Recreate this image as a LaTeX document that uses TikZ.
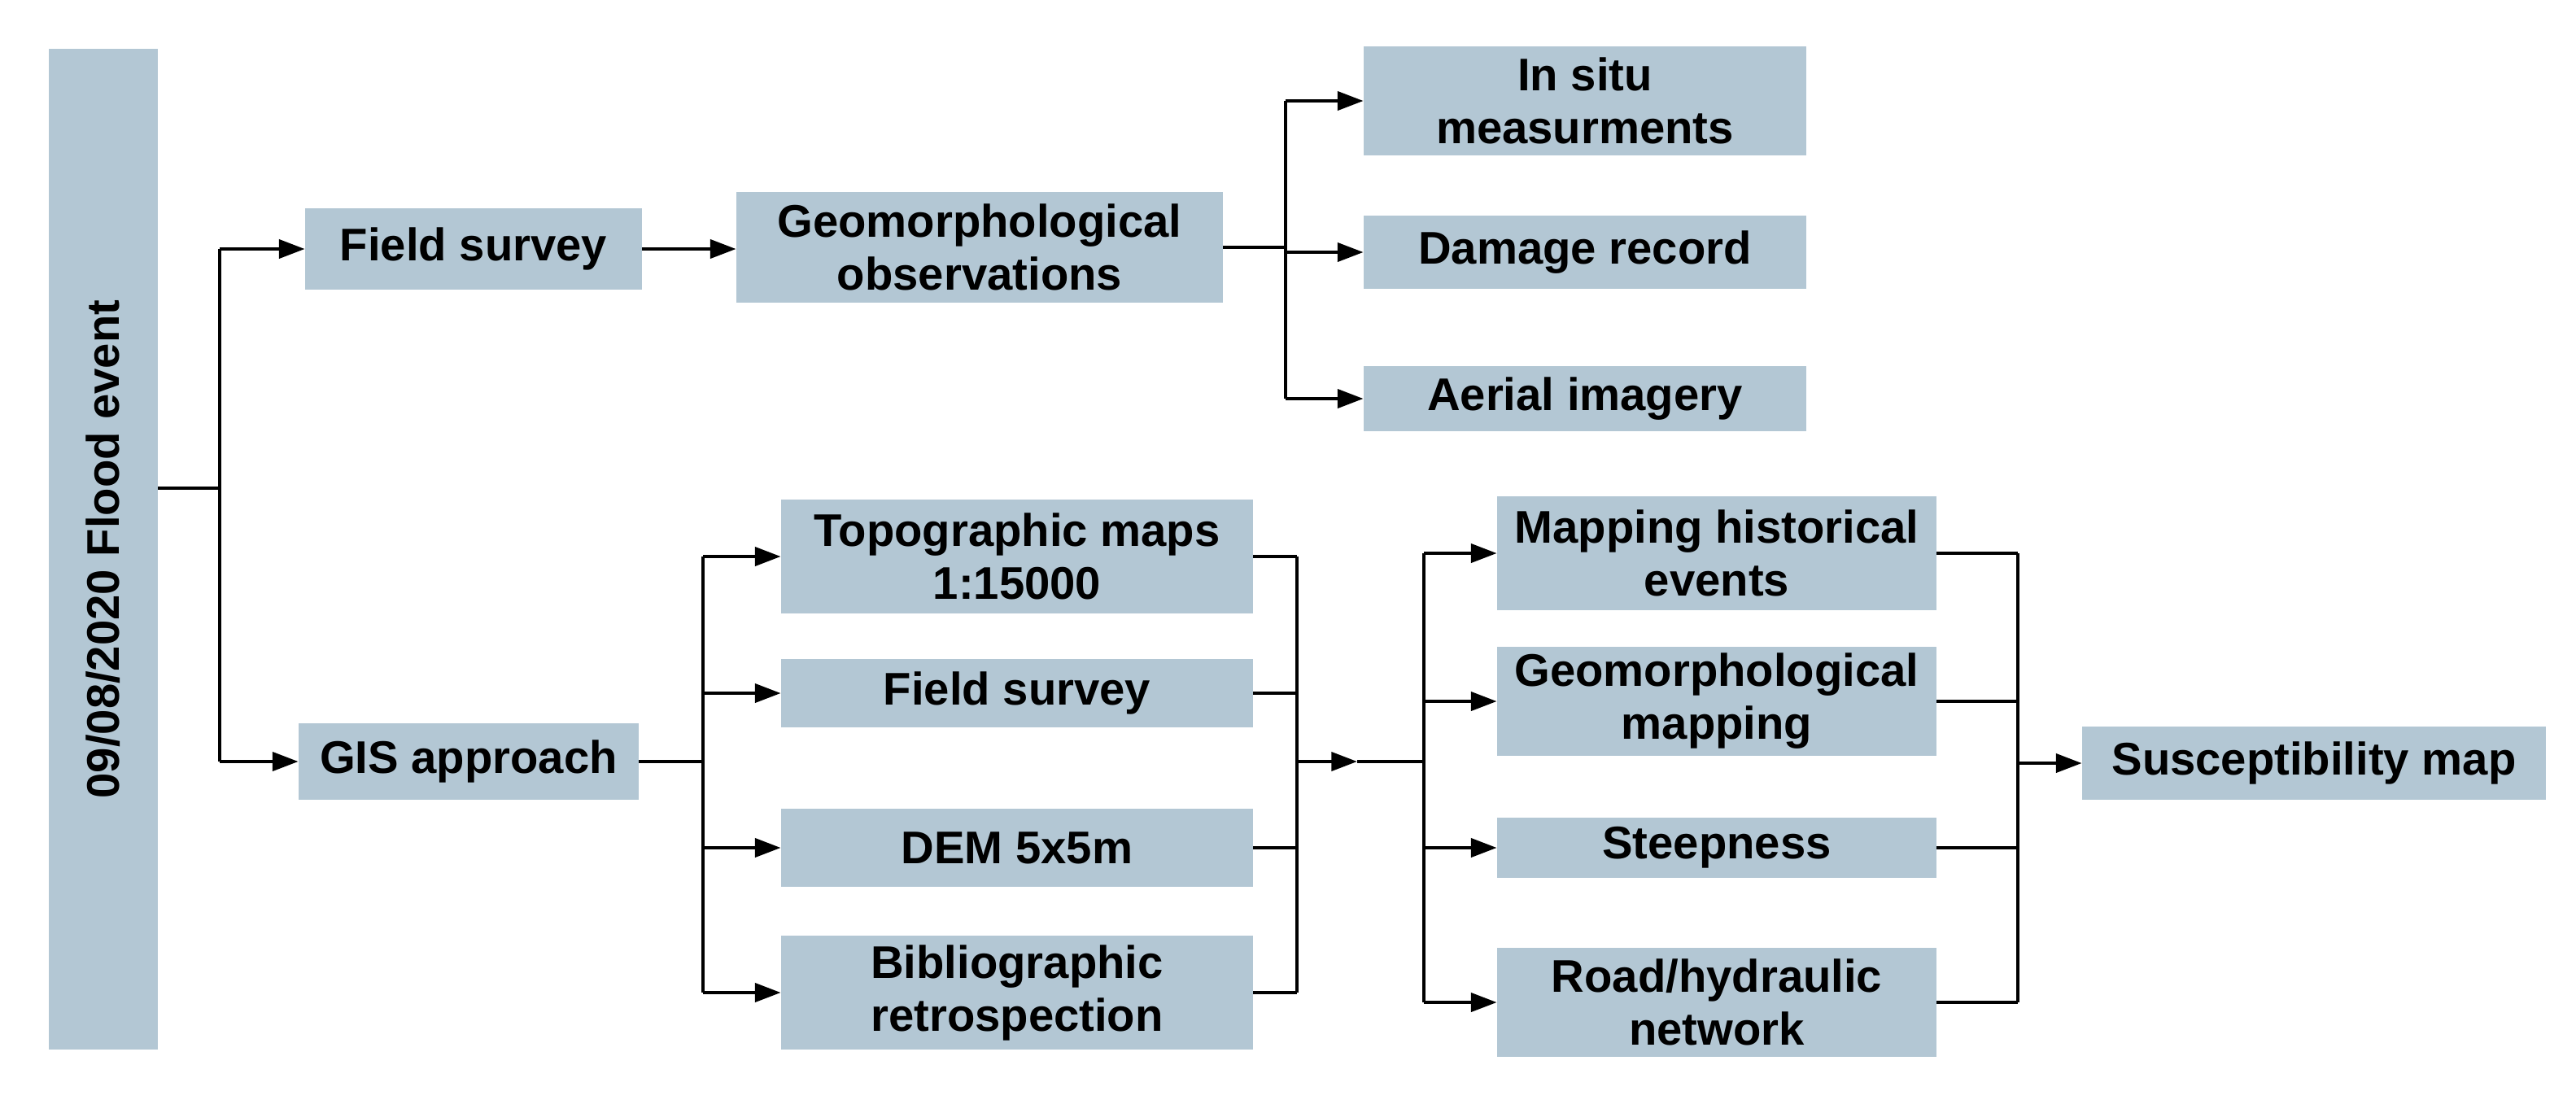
\documentclass[tikz,border=0pt]{standalone}
\usepackage{fontspec}
\setmainfont{Liberation Sans}
\usetikzlibrary{arrows.meta}
\definecolor{bx}{HTML}{B3C7D4}
\begin{document}
\begin{tikzpicture}[x=0.04cm,y=-0.04cm,
  txt/.style={font=\fontsize{32}{37}\selectfont\bfseries},
  box/.style={fill=bx,draw=none,inner sep=0pt,align=center,txt},
  ln/.style={line width=2.4pt},
  arr/.style={ln,-{Triangle[length=18pt,width=13pt]}}]
\useasboundingbox[fill=white] (0,0) rectangle (1583,683.5);
\node[box,minimum width=2.68cm,minimum height=24.6cm] (ev) at (63.5,337.5) {};
\node[txt,rotate=90] (evt) at (ev.center) {09/08/2020 Flood event};
\node[box,minimum width=8.28cm,minimum height=2.0cm] (fs1) at (291,153) {Field survey};
\node[box,minimum width=11.96cm,minimum height=2.72cm] (go) at (602,152) {Geomorphological\\observations};
\node[box,minimum width=10.88cm,minimum height=2.68cm] (is) at (974,62) {In situ\\measurments};
\node[box,minimum width=10.88cm,minimum height=1.8cm] (dr) at (974,155) {Damage record};
\node[box,minimum width=10.88cm,minimum height=1.6cm] (ai) at (974,245) {Aerial imagery};
\node[box,minimum width=8.36cm,minimum height=1.88cm] (gis) at (288,468) {GIS approach};
\node[box,minimum width=11.6cm,minimum height=2.8cm] (tm) at (625,342) {Topographic maps\\1:15000};
\node[box,minimum width=11.6cm,minimum height=1.68cm] (fs2) at (625,426) {Field survey};
\node[box,minimum width=11.6cm,minimum height=1.92cm] (dem) at (625,521) {DEM 5x5m};
\node[box,minimum width=11.6cm,minimum height=2.8cm] (bib) at (625,610) {Bibliographic\\retrospection};
\node[box,minimum width=10.8cm,minimum height=2.8cm] (mh) at (1055,340) {Mapping historical\\events};
\node[box,minimum width=10.8cm,minimum height=2.68cm] (gm) at (1055,431) {Geomorphological\\mapping};
\node[box,minimum width=10.8cm,minimum height=1.48cm] (st) at (1055,521) {Steepness};
\node[box,minimum width=10.8cm,minimum height=2.68cm] (rh) at (1055,616) {Road/hydraulic\\network};
\node[box,minimum width=11.4cm,minimum height=1.8cm] (sm) at (1422,469) {Susceptibility map};
\coordinate (j1) at (135,300);
\draw[ln] (ev.east |- j1) -- (j1);
\draw[ln] (135,153) -- (135,468);
\draw[arr] (135,153) -- (fs1.west);
\draw[arr] (135,468) -- (gis.west);
\draw[arr] (fs1.east) -- (fs1.east -| go.west);
\draw[ln] (go.east) -- (790,152);
\draw[ln] (790,62) -- (790,245);
\draw[arr] (790,62) -- (is.west);
\draw[arr] (790,155) -- (dr.west);
\draw[arr] (790,245) -- (ai.west);
\draw[ln] (gis.east) -- (432,468);
\draw[ln] (432,342) -- (432,610);
\foreach \n in {tm,fs2,dem,bib}{
  \draw[arr] (432,0 |- \n) -- (\n.west);
  \draw[ln] (\n.east) -- (797,0 |- \n);
}
\draw[ln] (797,342) -- (797,610);
\draw[arr] (797,468) -- (834,468);
\draw[ln] (834,468) -- (875,468);
\draw[ln] (875,340) -- (875,616);
\foreach \n in {mh,gm,st,rh}{
  \draw[arr] (875,0 |- \n) -- (\n.west);
  \draw[ln] (\n.east) -- (1240,0 |- \n);
}
\draw[ln] (1240,340) -- (1240,616);
\draw[arr] (1240,469) -- (sm.west);
\end{tikzpicture}
\end{document}
